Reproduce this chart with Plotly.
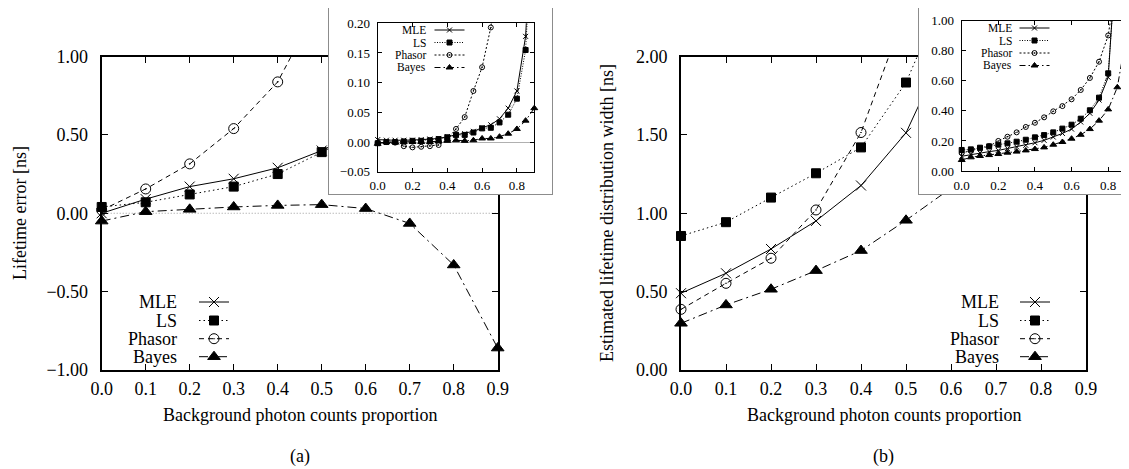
import plotly.graph_objects as go

# ---------------- data ----------------
methods = ["MLE", "LS", "Phasor", "Bayes"]

x_main = [0.0, 0.1, 0.2, 0.3, 0.4, 0.5, 0.6, 0.7, 0.8, 0.9]
x_inset = [0.0, 0.05, 0.1, 0.15, 0.2, 0.25, 0.3, 0.35, 0.4, 0.45,
           0.5, 0.55, 0.6, 0.65, 0.7, 0.75, 0.8, 0.85, 0.9]

# (a) lifetime error [ns]
a_mle = [0.00, 0.09, 0.17, 0.22, 0.29, 0.40, 0.54, 0.80, 1.25, 2.00]
a_ls = [0.04, 0.07, 0.12, 0.17, 0.25, 0.39, 0.53, 0.78, 1.20, 1.90]
a_phasor = [0.02, 0.155, 0.315, 0.54, 0.838, 1.35, 1.90, 2.60, 3.40, 4.50]
a_bayes = [-0.05, 0.01, 0.025, 0.04, 0.05, 0.055, 0.03, -0.065, -0.33, -0.86]

# (a) inset
ai_mle = [0.004, 0.003, 0.003, 0.003, 0.003, 0.004, 0.005, 0.006, 0.009, 0.012,
          0.014, 0.018, 0.024, 0.029, 0.039, 0.057, 0.086, 0.178, 0.45]
ai_ls = [-0.002, 0.000, 0.000, 0.001, 0.002, 0.002, 0.003, 0.005, 0.008, 0.012,
         0.012, 0.016, 0.023, 0.024, 0.033, 0.046, 0.073, 0.155, 0.42]
ai_phasor = [-0.002, 0.000, -0.001, -0.007, -0.009, -0.008, -0.007, -0.005, 0.005, 0.022,
             0.042, 0.086, 0.126, 0.193, 0.30, 0.45, 0.65, 0.95, 1.40]
ai_bayes = [-0.003, 0.000, 0.000, 0.000, 0.000, 0.000, 0.000, 0.001, 0.002, 0.003,
            0.002, 0.003, 0.006, 0.006, 0.009, 0.014, 0.022, 0.036, 0.057]

# (b) estimated lifetime distribution width [ns]
b_mle = [0.49, 0.617, 0.772, 0.951, 1.177, 1.513, 2.13, 2.90, 4.00, 5.50]
b_ls = [0.855, 0.943, 1.10, 1.255, 1.42, 1.834, 2.50, 3.30, 4.30, 5.80]
b_phasor = [0.387, 0.553, 0.713, 1.021, 1.515, 2.30, 3.20, 4.20, 5.50, 7.00]
b_bayes = [0.298, 0.415, 0.515, 0.634, 0.762, 0.955, 1.16, 1.45, 1.95, 2.80]

# (b) inset
bi_mle = [0.098, 0.110, 0.120, 0.129, 0.137, 0.149, 0.160, 0.171, 0.188, 0.204,
          0.226, 0.250, 0.279, 0.326, 0.384, 0.472, 0.623, 1.45, 2.50]
bi_ls = [0.140, 0.144, 0.155, 0.164, 0.175, 0.184, 0.195, 0.208, 0.224, 0.239,
         0.257, 0.282, 0.308, 0.348, 0.404, 0.488, 0.650, 1.50, 2.60]
bi_phasor = [0.120, 0.135, 0.150, 0.165, 0.200, 0.228, 0.257, 0.293, 0.321, 0.357,
             0.397, 0.432, 0.477, 0.539, 0.619, 0.727, 0.902, 1.30, 2.00]
bi_bayes = [0.073, 0.091, 0.100, 0.106, 0.113, 0.122, 0.129, 0.137, 0.146, 0.157,
            0.175, 0.193, 0.215, 0.241, 0.279, 0.335, 0.410, 0.557, 0.909]

# ---------------- layout helpers ----------------
W, H = 1129, 469
OFF = 8  # page body margin offsets the figure by 8 px
FONT = "Liberation Serif, Times New Roman, serif"


def fx(p):
    return (p - OFF) / W


def fy(p):
    return 1 - (p - OFF) / H


def dom(a, b):
    lo, hi = sorted((a, b))
    return [max(0.0, lo), min(1.0, hi)]


main_style = {
    "MLE": dict(symbol="x-thin", size=10, dash="solid"),
    "LS": dict(symbol="square", size=9, dash="1.5px,3px"),
    "Phasor": dict(symbol="circle-open-dot", size=10, dash="5px,4px"),
    "Bayes": dict(symbol="triangle-up", size=11, dash="9px,4px,2px,4px"),
}
inset_style = {
    "MLE": dict(symbol="x-thin", size=5, dash="solid"),
    "LS": dict(symbol="square", size=5, dash="1px,1.5px"),
    "Phasor": dict(symbol="circle-open-dot", size=5, dash="2px,2px"),
    "Bayes": dict(symbol="triangle-up", size=6, dash="6px,3px,1.5px,3px"),
}

# legend key placement per panel: (left x of key, row centres, label right x, label size)
legend_layout = [
    (194, [302, 320.5, 338.7, 356.7], 178.5, 18),     # (a) main
    (429.5, [30, 42.5, 55, 67.5], 428, 11.5),         # (a) inset
    (1015, [302, 320.5, 338.7, 356.7], 1000.6, 18),   # (b) main
    (1014.5, [28, 40.5, 53, 65.5], 1014, 11.5),       # (b) inset
]

fig = go.Figure()
legend_defs = {}
annotations = []


def text(x, y, s, size=18, xanchor="center", angle=0):
    annotations.append(dict(x=fx(x), y=fy(y), xref="paper", yref="paper", text=s,
                            showarrow=False, xanchor=xanchor, yanchor="middle",
                            textangle=angle,
                            font=dict(family=FONT, size=size, color="black")))


def add_panel(idx, xs, series, xa, ya, styles):
    kx, rows, lx, lsize = legend_layout[idx]
    for m, (name, ys) in enumerate(zip(methods, series)):
        st = styles[name]
        n = idx * 4 + m + 1
        lid = "legend" if n == 1 else "legend%d" % n
        legend_defs[lid] = dict(x=fx(kx), y=fy(rows[m] - 14.5), xanchor="left",
                                yanchor="top", bgcolor="rgba(0,0,0,0)", borderwidth=0,
                                font=dict(family=FONT, size=10), tracegroupgap=0,
                                itemclick=False, itemdoubleclick=False, visible=True)
        fig.add_trace(go.Scatter(
            x=xs, y=ys, mode="lines+markers", name=" ",
            xaxis=xa, yaxis=ya, legend=lid, cliponaxis=False, showlegend=True,
            line=dict(color="black", width=1, dash=st["dash"]),
            marker=dict(symbol=st["symbol"], size=st["size"], color="black",
                        line=dict(color="black", width=1)),
            hoverinfo="skip",
        ))
        text(lx, rows[m], name, lsize, "right")


add_panel(0, x_main, [a_mle, a_ls, a_phasor, a_bayes], "x", "y", main_style)
# white box behind inset (a)
fig.add_trace(go.Scatter(x=[], y=[], xaxis="x2", yaxis="y2", showlegend=False))
add_panel(1, x_inset, [ai_mle, ai_ls, ai_phasor, ai_bayes], "x3", "y3", inset_style)
add_panel(2, x_main, [b_mle, b_ls, b_phasor, b_bayes], "x4", "y4", main_style)
fig.add_trace(go.Scatter(x=[], y=[], xaxis="x5", yaxis="y5", showlegend=False))
add_panel(3, x_inset, [bi_mle, bi_ls, bi_phasor, bi_bayes], "x6", "y6", inset_style)

# domains (pixel based, screen coordinates)
main_y_dom = dom(fy(370), fy(56.5))
main_a_x = dom(fx(101.7), fx(497.7))
main_b_x = dom(fx(681), fx(1086))
box_y_dom = dom(fy(194), fy(7))
box_a_x = dom(fx(329), fx(551.5))
box_b_x = dom(fx(919), fx(1128.3))
ina_x = dom(fx(377.7), fx(534.3))
ina_y = dom(fy(171.7), fy(23.3))
inb_x = dom(fx(961.7), fx(1126.5))
inb_y = dom(fy(171), fy(20.7))

tick_main = dict(family=FONT, size=18, color="black")
tick_inset = dict(family=FONT, size=13, color="black")


def main_axis(d, anchor, rng, dtick, fmt, standoff):
    return dict(domain=d, anchor=anchor, range=rng, dtick=dtick, tick0=0,
                tickformat=fmt, ticks="inside", ticklen=6, tickwidth=1.2,
                tickcolor="black", showline=True, linewidth=2, linecolor="black",
                mirror="ticks", showgrid=False, zeroline=False, tickfont=tick_main,
                ticklabelstandoff=standoff, fixedrange=True, automargin=False)


def inset_axis(d, anchor, rng, dtick, fmt, standoff, zeroline=False):
    return dict(domain=d, anchor=anchor, range=rng, dtick=dtick, tick0=0,
                tickformat=fmt, ticks="inside", ticklen=4, tickwidth=1,
                tickcolor="black", showline=True, linewidth=1.3, linecolor="black",
                mirror="ticks", showgrid=False, zeroline=zeroline,
                zerolinecolor="#b0b0b0", zerolinewidth=1, tickfont=tick_inset,
                ticklabelstandoff=standoff, fixedrange=True, automargin=False)


def box_axis(d, anchor):
    return dict(domain=d, anchor=anchor, range=[0, 1], showline=True, mirror=True,
                linecolor="#8c8c8c", linewidth=1, showticklabels=False, ticks="",
                showgrid=False, zeroline=False, fixedrange=True, automargin=False)


fig.update_layout(
    xaxis=main_axis(main_a_x, "y", [0, 0.9], 0.1, ".1f", 1),
    yaxis=main_axis(main_y_dom, "x", [-1, 1], 0.5, ".2f", 8),
    xaxis2=box_axis(box_a_x, "y2"),
    yaxis2=box_axis(box_y_dom, "x2"),
    xaxis3=inset_axis(ina_x, "y3", [0, 0.9], 0.2, ".1f", 2),
    yaxis3=inset_axis(ina_y, "x3", [-0.05, 0.2], 0.05, ".2f", 4, zeroline=True),
    xaxis4=main_axis(main_b_x, "y4", [0, 0.9], 0.1, ".1f", 1),
    yaxis4=main_axis(main_y_dom, "x4", [0, 2], 0.5, ".2f", 8),
    xaxis5=box_axis(box_b_x, "y5"),
    yaxis5=box_axis(box_y_dom, "x5"),
    xaxis6=inset_axis(inb_x, "y6", [0, 0.9], 0.2, ".1f", 2),
    yaxis6=inset_axis(inb_y, "x6", [0, 1], 0.2, ".2f", 4),
)
fig.update_layout(**legend_defs)

text(299.7, 415, "Background photon counts proportion")
text(883.5, 415, "Background photon counts proportion")
text(20, 213, "Lifetime error [ns]", angle=-90)
text(607, 213, "Estimated lifetime distribution width [ns]", angle=-90)
text(300, 456, "(a)")
text(883, 456, "(b)")

fig.update_layout(
    width=W, height=H,
    showlegend=True,
    margin=dict(l=0, r=0, t=0, b=0, pad=0, autoexpand=False),
    paper_bgcolor="white", plot_bgcolor="white",
    annotations=annotations,
    shapes=[dict(type="line", xref="x domain", yref="y", x0=0, x1=1, y0=0, y1=0,
                 layer="below", line=dict(color="#9a9a9a", width=1, dash="1px,2px"))],
    font=dict(family=FONT, color="black"),
)

fig.write_html("out.html")
